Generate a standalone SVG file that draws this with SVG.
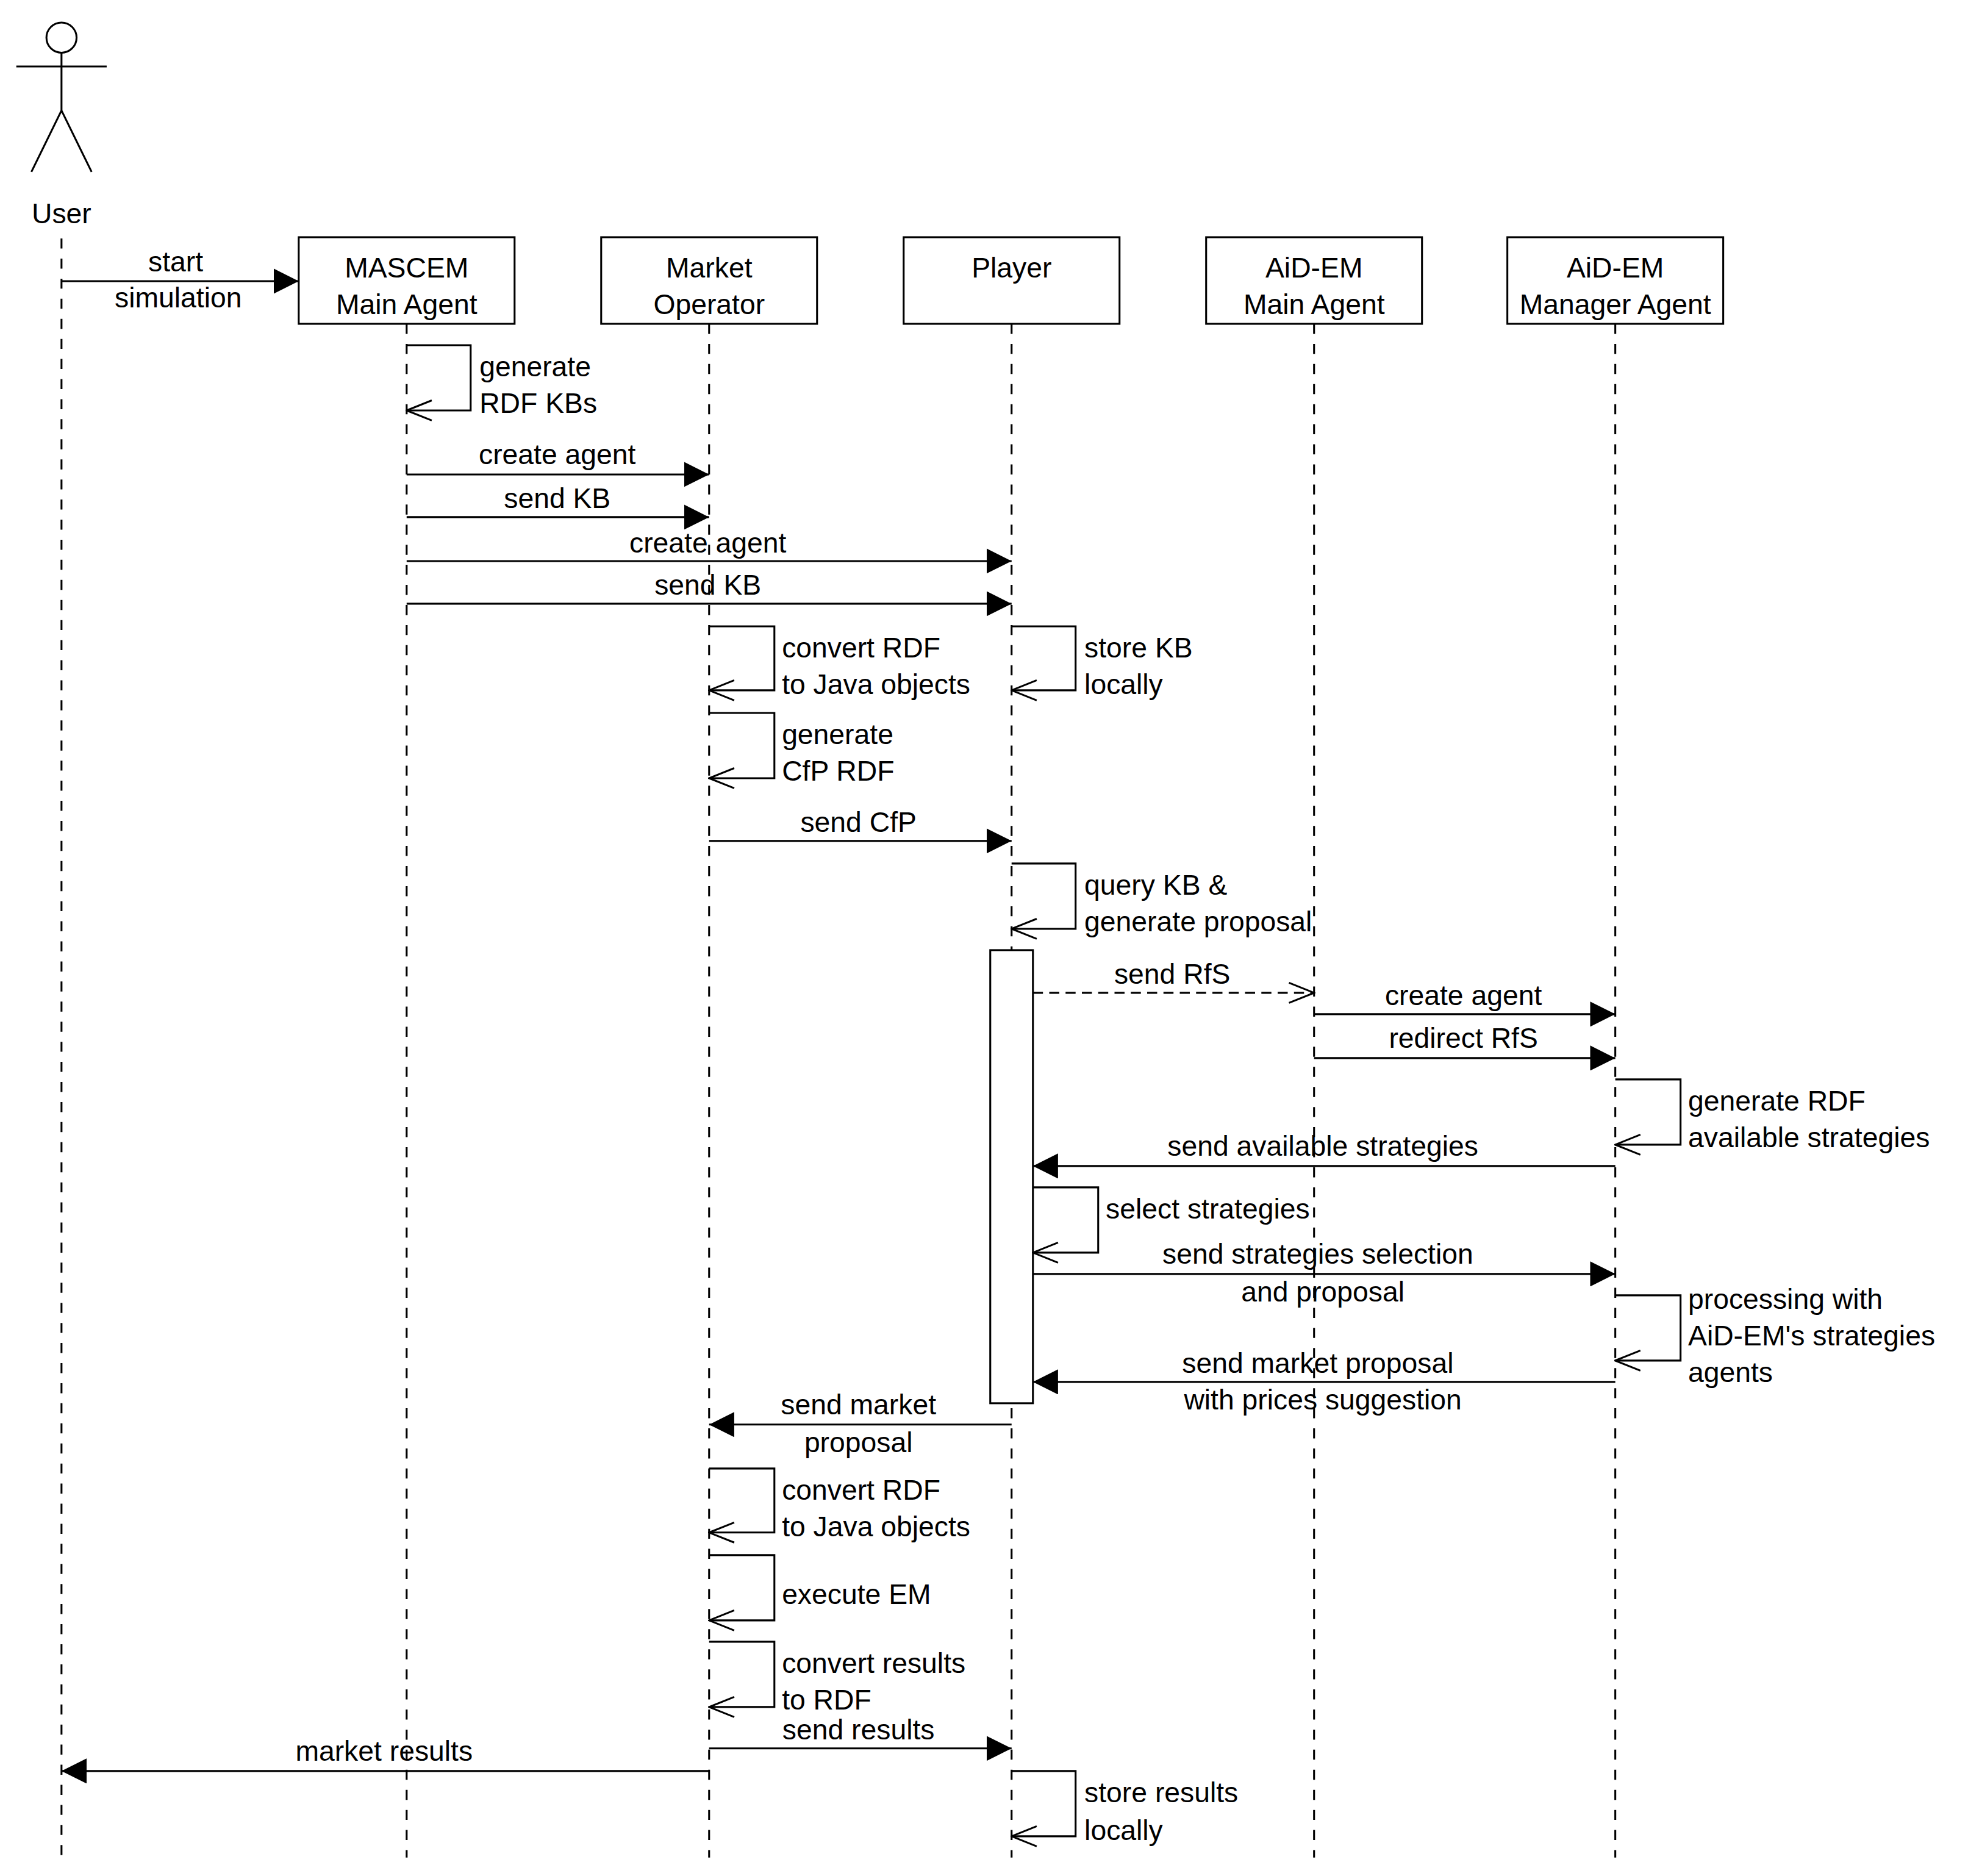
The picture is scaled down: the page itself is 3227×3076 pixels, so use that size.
<svg xmlns="http://www.w3.org/2000/svg" width="3227" height="3076" viewBox="0 0 3227 3076">
<style>
text{font-family:"Liberation Sans",Arial,sans-serif;font-size:22.5px;fill:#000}
.m{text-anchor:middle}
.box{fill:#fff;stroke:#000;stroke-width:1.5}
.life{stroke:#000;stroke-width:1.5;stroke-dasharray:8 8;fill:none}
.msg{stroke:#000;stroke-width:1.5;fill:none;marker-end:url(#fa)}
.dash{stroke:#000;stroke-width:1.5;fill:none;stroke-dasharray:8 5;marker-end:url(#oa)}
.self{stroke:#000;stroke-width:1.5;fill:none;marker-end:url(#oa)}
</style>
<defs>
<marker id="fa" viewBox="0 0 20 20" refX="20" refY="10" markerWidth="20" markerHeight="20" markerUnits="userSpaceOnUse" orient="auto"><path d="M0,0 L20,10 L0,20 Z" fill="#000"/></marker>
<marker id="oa" viewBox="0 0 22 20" refX="21" refY="10" markerWidth="22" markerHeight="20" markerUnits="userSpaceOnUse" orient="auto"><path d="M1,2 L21,10 L1,18" fill="none" stroke="#000" stroke-width="1.5"/></marker>
</defs>
<rect width="3227" height="3076" fill="#fff"/>
<g transform="scale(2.058)">
<g id="user">
<circle cx="49" cy="30" r="12" fill="#fff" stroke="#000" stroke-width="1.5"/>
<path d="M49,42 V88 M13,53 H85 M49,88 L25,137 M49,88 L73,137" stroke="#000" stroke-width="1.5" fill="none"/>
<text class="m" x="49" y="178">User</text>
<line class="life" x1="49" y1="190" x2="49" y2="1480"/>
</g>
<g id="mascem"><rect class="box" x="238" y="189" width="172" height="69"/><text class="m" x="324" y="221">MASCEM</text><text class="m" x="324" y="250">Main Agent</text><line class="life" x1="324" y1="258" x2="324" y2="1480"/></g>
<g id="market-operator"><rect class="box" x="479" y="189" width="172" height="69"/><text class="m" x="565" y="221">Market</text><text class="m" x="565" y="250">Operator</text><line class="life" x1="565" y1="258" x2="565" y2="1480"/></g>
<g id="player"><rect class="box" x="720" y="189" width="172" height="69"/><text class="m" x="806" y="221">Player</text><line class="life" x1="806" y1="258" x2="806" y2="1480"/></g>
<g id="aidem-main"><rect class="box" x="961" y="189" width="172" height="69"/><text class="m" x="1047" y="221">AiD-EM</text><text class="m" x="1047" y="250">Main Agent</text><line class="life" x1="1047" y1="258" x2="1047" y2="1480"/></g>
<g id="aidem-manager"><rect class="box" x="1201" y="189" width="172" height="69"/><text class="m" x="1287" y="221">AiD-EM</text><text class="m" x="1287" y="250">Manager Agent</text><line class="life" x1="1287" y1="258" x2="1287" y2="1480"/></g>
<g id="activation"><rect class="box" x="789" y="757" width="34" height="361"/></g>
<g id="connectors">
<path class="msg" d="M49,224 H238"/><text class="m" x="140" y="216">start</text><text class="m" x="142" y="245">simulation</text>
<path class="self" d="M324,275 H375 V327 H324"/><text x="382" y="300">generate</text><text x="382" y="329">RDF KBs</text>
<path class="msg" d="M324,378 H565"/><text class="m" x="444" y="370">create agent</text>
<path class="msg" d="M324,412 H565"/><text class="m" x="444" y="405">send KB</text>
<path class="msg" d="M324,447 H806"/><text class="m" x="564" y="440">create agent</text>
<path class="msg" d="M324,481 H806"/><text class="m" x="564" y="474">send KB</text>
<path class="self" d="M565,499 H617 V550 H565"/><text x="623" y="524">convert RDF</text><text x="623" y="553">to Java objects</text>
<path class="self" d="M806,499 H857 V550 H806"/><text x="864" y="524">store KB</text><text x="864" y="553">locally</text>
<path class="self" d="M565,568 H617 V620 H565"/><text x="623" y="593">generate</text><text x="623" y="622">CfP RDF</text>
<path class="msg" d="M565,670 H806"/><text class="m" x="684" y="663">send CfP</text>
<path class="self" d="M806,688 H857 V740 H806"/><text x="864" y="713">query KB &amp;</text><text x="864" y="742">generate proposal</text>
<path class="dash" d="M823,791 H1047"/><text class="m" x="934" y="784">send RfS</text>
<path class="msg" d="M1047,808 H1287"/><text class="m" x="1166" y="801">create agent</text>
<path class="msg" d="M1047,843 H1287"/><text class="m" x="1166" y="835">redirect RfS</text>
<path class="self" d="M1287,860 H1339 V912 H1287"/><text x="1345" y="885">generate RDF</text><text x="1345" y="914">available strategies</text>
<path class="msg" d="M1287,929 H823"/><text class="m" x="1054" y="921">send available strategies</text>
<path class="self" d="M823,946 H875 V998 H823"/><text x="881" y="971">select strategies</text>
<path class="msg" d="M823,1015 H1287"/><text class="m" x="1050" y="1007">send strategies selection</text><text class="m" x="1054" y="1037">and proposal</text>
<path class="self" d="M1287,1032 H1339 V1084 H1287"/><text x="1345" y="1043">processing with</text><text x="1345" y="1072">AiD-EM's strategies</text><text x="1345" y="1101">agents</text>
<path class="msg" d="M1287,1101 H823"/><text class="m" x="1050" y="1094">send market proposal</text><text class="m" x="1054" y="1123">with prices suggestion</text>
<path class="msg" d="M806,1135 H565"/><text class="m" x="684" y="1127">send market</text><text class="m" x="684" y="1157">proposal</text>
<path class="self" d="M565,1170 H617 V1221 H565"/><text x="623" y="1195">convert RDF</text><text x="623" y="1224">to Java objects</text>
<path class="self" d="M565,1239 H617 V1291 H565"/><text x="623" y="1278">execute EM</text>
<path class="self" d="M565,1308 H617 V1360 H565"/><text x="623" y="1333">convert results</text><text x="623" y="1362">to RDF</text>
<path class="msg" d="M565,1393 H806"/><text class="m" x="684" y="1386">send results</text>
<path class="msg" d="M565,1411 H49"/><text class="m" x="306" y="1403">market results</text>
<path class="self" d="M806,1411 H857 V1463 H806"/><text x="864" y="1436">store results</text><text x="864" y="1466">locally</text>
</g>
</g>
</svg>
